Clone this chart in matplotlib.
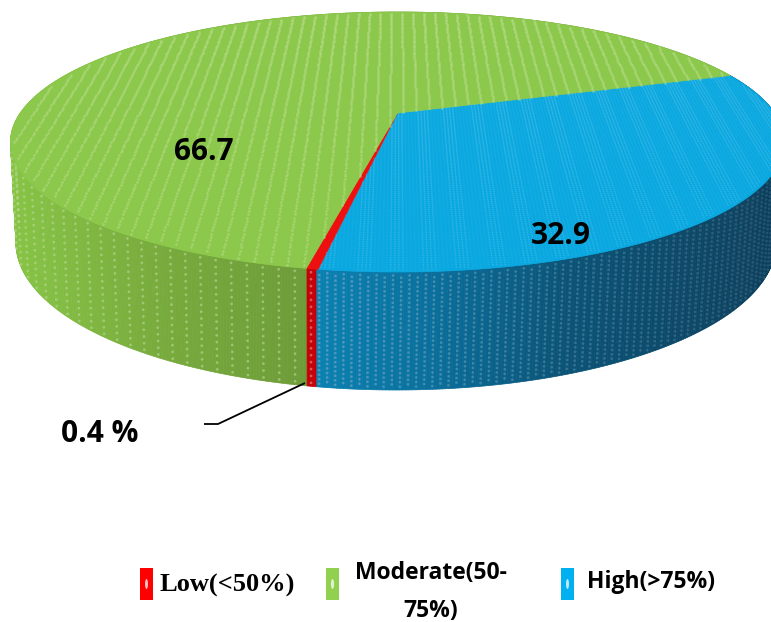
#!/usr/bin/env python3

import numpy as np
import matplotlib
matplotlib.use('agg')
import matplotlib.pyplot as plt
from matplotlib.collections import PolyCollection
from matplotlib.colors import to_rgb
from matplotlib.patches import Polygon, Rectangle, Ellipse

categories = ['Low(<50%)', 'Moderate(50-75%)', 'High(>75%)']
values = [0.4, 66.7, 32.9]
value_labels = ['0.4 %', '66.7', '32.9']

top_colors = ['#ee1010', '#8cc84b', '#0aa8e0']
swatch_colors = ['#ff0000', '#92d050', '#00b0f0']
dot_colors = ['#f06060', '#b9de8f', '#62c6ea']

# pie geometry in pixels: cx, cy, a, b of the two rims, plus perspective
TOP_RIM = (397.5, 142, 387, 130)
BOTTOM_RIM = (396, 243, 380, 147)
PERSP = 0.223
START_ANGLE = 19.0
# slices run clockwise from START_ANGLE in this order
DRAW_ORDER = [2, 0, 1]


def project(theta, rim, r=1.0):
    cx, cy, a, b = rim
    u = r * np.cos(theta)
    v = r * np.sin(theta)
    w = 1 + PERSP * v
    x = cx + a * np.sqrt(1 - PERSP ** 2) * u / w
    y = cy - b * (v + PERSP) / w
    return x, y


def slice_edges():
    edges = {}
    angle = START_ANGLE
    for i in DRAW_ORDER:
        sweep = values[i] / sum(values) * 360
        edges[i] = (angle, angle - sweep)
        angle -= sweep
    return edges


def slice_of(theta):
    # which slice each angle (radians) falls in
    frac = ((START_ANGLE - np.degrees(theta)) % 360) / 360 * sum(values)
    out = np.full(np.shape(theta), DRAW_ORDER[-1])
    limit = 0
    chosen = np.zeros(np.shape(theta), dtype=bool)
    for i in DRAW_ORDER:
        limit += values[i]
        hit = (frac < limit) & ~chosen
        out[hit] = i
        chosen |= hit
    return out


def mix(stops, x):
    xs = [s[0] for s in stops]
    rgb = np.array([to_rgb(s[1]) for s in stops])
    return [np.interp(x, xs, rgb[:, k]) for k in range(3)]


def side_color(index, x):
    if index == 0:
        return to_rgb('#c40008')
    if index == 1:
        return mix([(15, '#87c445'), (150, '#78ac3d'), (303, '#6e9c39'), (500, '#6e9c39')], x)
    return mix([(315, '#0a81b2'), (430, '#0a6f9c'), (560, '#0b5478'), (771, '#0c3f5c')], x)


fig = plt.figure(figsize=(7.71, 6.22), dpi=100)
ax = fig.add_axes([0, 0, 1, 1])
ax.set_xlim(0, 771)
ax.set_ylim(622, 0)
ax.axis('off')

# side wall as thin strips
thetas = np.radians(np.arange(-360, 0.01, 0.4))
strips = []
strip_colors = []
for t0, t1 in zip(thetas[:-1], thetas[1:]):
    x0, y0 = project(t0, TOP_RIM)
    x1, y1 = project(t1, TOP_RIM)
    x2, y2 = project(t1, BOTTOM_RIM)
    x3, y3 = project(t0, BOTTOM_RIM)
    strips.append([(x0, y0), (x1, y1), (x2, y2), (x3, y3)])
    mid = (t0 + t1) / 2
    strip_colors.append(side_color(int(slice_of(np.array(mid))), (x0 + x3) / 2))
ax.add_collection(PolyCollection(strips, facecolors=strip_colors, edgecolors=strip_colors,
                                 linewidths=0.5, zorder=1))

# dots on the side wall, green and blue have different screens
for index, du, rows, colour, alpha, size in [(1, 0.034, 17, '#b7d891', 0.6, 4.0),
                                             (0, 0.034, 17, '#f09090', 0.6, 4.0),
                                             (2, 0.017, 26, '#8fb4c6', 0.42, 4.0)]:
    us = np.arange(-0.995, 0.995, du)
    xs, ys, alphas = [], [], []
    for k, u in enumerate(us):
        theta = -np.arccos(u)
        if slice_of(np.array(theta)) != index:
            continue
        xt, yt = project(theta, TOP_RIM)
        xb, yb = project(theta, BOTTOM_RIM)
        shift = 0.5 / rows if (index == 2 and k % 2) else 0
        for t in np.arange(0.03, 0.98, 1 / rows) + shift:
            xs.append(xt + (xb - xt) * t)
            ys.append(yt + (yb - yt) * t)
            # blue dots fade towards the dark right-hand side
            alphas.append(alpha * (1.2 - 0.8 * np.clip((xt - 315) / 456, 0, 1)) if index == 2 else alpha)
    rgba = np.zeros((len(xs), 4))
    rgba[:, :3] = to_rgb(colour)
    rgba[:, 3] = np.clip(alphas, 0, 1)
    ax.scatter(xs, ys, s=size, c=rgba, linewidths=0, zorder=2)

# top face
edges = slice_edges()
for i in DRAW_ORDER:
    start, stop = edges[i]
    arc = np.radians(np.linspace(start, stop, 300))
    x, y = project(arc, TOP_RIM)
    x0, y0 = project(np.array(0.0), TOP_RIM, r=0.0)
    pts = np.column_stack([np.r_[x0, x], np.r_[y0, y]])
    ax.add_patch(Polygon(pts, closed=True, facecolor=top_colors[i], edgecolor=top_colors[i],
                         linewidth=0.5, zorder=3))

# dot screen on the top face: columns of constant u, so they lean with perspective
for index, du, dv, alpha, size in [(1, 0.035, 0.018, 0.5, 4.0), (2, 0.0085, 0.012, 0.0, 1.4)]:
    uu, vv = np.meshgrid(np.arange(-1, 1, du), np.arange(-1, 1, dv))
    keep = uu ** 2 + vv ** 2 < 0.985
    uu, vv = uu[keep], vv[keep]
    theta = np.arctan2(vv, uu)
    r = np.hypot(uu, vv)
    keep = slice_of(theta) == index
    xd, yd = project(theta[keep], TOP_RIM, r[keep])
    if index == 2:
        band = (np.floor((uu[keep] + 1) / 0.035) % 2 == 0)
        rgba = np.zeros((keep.sum(), 4))
        rgba[:, :3] = to_rgb(dot_colors[index])
        rgba[:, 3] = np.where(band, 0.4, 0.15)
        ax.scatter(xd, yd, s=size, c=rgba, linewidths=0, zorder=4)
    else:
        ax.scatter(xd, yd, s=size, c=dot_colors[index], alpha=alpha, linewidths=0, zorder=4)

# value labels
label_font = {'family': 'Open Sans', 'weight': 'bold', 'color': 'black', 'ha': 'center', 'va': 'center'}
ax.text(204, 152, value_labels[1], fontsize=21.5, zorder=6, **label_font)
ax.text(561, 236, value_labels[2], fontsize=21.5, zorder=6, **label_font)
ax.text(100, 434, value_labels[0], fontsize=21.5, zorder=6, **label_font)
ax.plot([305, 218, 204], [383, 424, 424], color='black', lw=1.3, zorder=6, solid_capstyle='butt')

# legend
legend_x = [140, 326, 561]
for i, lx in enumerate(legend_x):
    ax.add_patch(Rectangle((lx, 568), 13, 32, facecolor=swatch_colors[i], edgecolor='none', zorder=5))
    ax.add_patch(Ellipse((lx + 6.5, 584), 3, 10, facecolor='white', edgecolor='none', alpha=0.75, zorder=6))
legend_font = {'family': 'Open Sans', 'weight': 'bold', 'va': 'center'}
ax.text(159, 585, categories[0], family='Liberation Serif', weight='bold', fontsize=19,
        va='center', ha='left')
ax.text(431, 573, 'Moderate(50-', fontsize=16.5, ha='center', **legend_font)
ax.text(431, 611, '75%)', fontsize=16.5, ha='center', **legend_font)
ax.text(587, 582, categories[2], fontsize=16.5, ha='left', **legend_font)

fig.savefig('out.png', dpi=100)
